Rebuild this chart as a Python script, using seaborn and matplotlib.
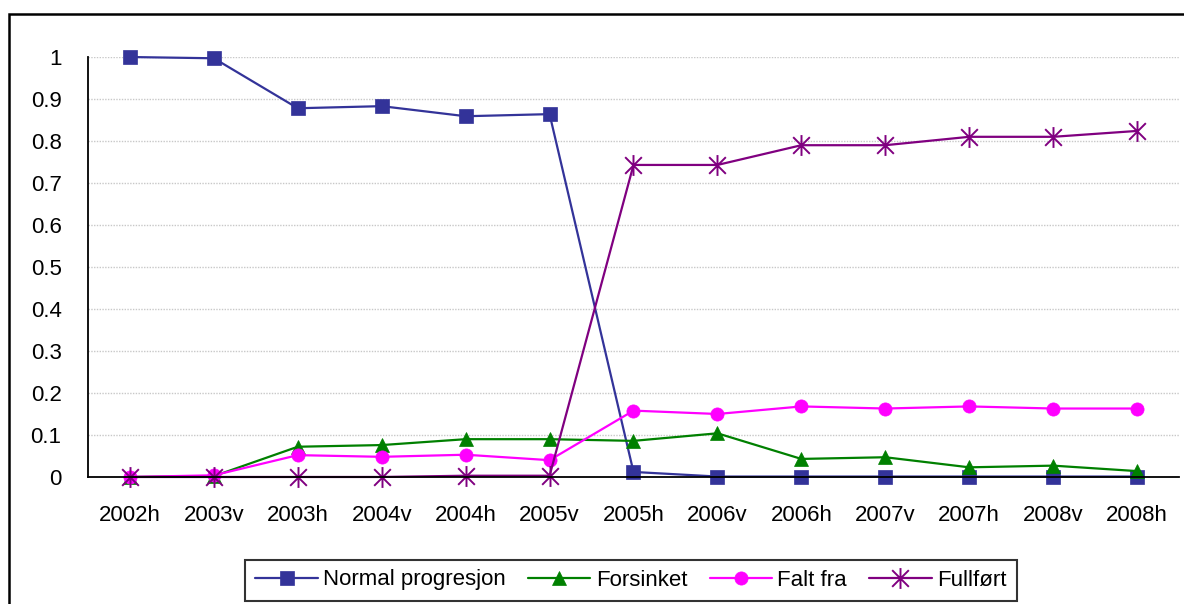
import numpy as np
import pandas as pd
import matplotlib
matplotlib.use("Agg")
import matplotlib.pyplot as plt
from matplotlib.path import Path
from matplotlib.patches import Rectangle
import seaborn as sns

semesters = ["2002h", "2003v", "2003h", "2004v", "2004h", "2005v", "2005h",
             "2006v", "2006h", "2007v", "2007h", "2008v", "2008h"]

normal = [1.0, 0.997, 0.878, 0.883, 0.859, 0.864, 0.012,
          0.001, 0.001, 0.001, 0.001, 0.001, 0.001]
forsinket = [0.0, 0.002, 0.072, 0.076, 0.090, 0.090, 0.086,
             0.104, 0.043, 0.047, 0.023, 0.027, 0.014]
falt_fra = [0.0, 0.004, 0.052, 0.048, 0.053, 0.040, 0.158,
            0.150, 0.168, 0.163, 0.168, 0.163, 0.163]
fullfort = [0.0, 0.0, 0.0, 0.0, 0.003, 0.003, 0.743,
            0.743, 0.790, 0.790, 0.810, 0.810, 0.824]

series_names = ["Normal progresjon", "Forsinket", "Falt fra", "Fullført"]
series_values = [normal, forsinket, falt_fra, fullfort]
colors = ["#333399", "#008000", "#FF00FF", "#800080"]

# asterisk marker like the excel one: vertical bar plus an X
star = Path([(0, -1), (0, 1), (-0.8, -0.8), (0.8, 0.8), (-0.8, 0.8), (0.8, -0.8)],
            [Path.MOVETO, Path.LINETO, Path.MOVETO, Path.LINETO, Path.MOVETO, Path.LINETO])
markers = ["s", "^", "o", star]
sizes = [9.5, 10, 9.5, 15]

sns.set_style("white")
plt.rcParams["font.family"] = ["Liberation Sans", "DejaVu Sans"]
plt.rcParams["text.color"] = "black"
plt.rcParams["xtick.color"] = "black"
plt.rcParams["ytick.color"] = "black"

fig = plt.figure(figsize=(11.84, 6.04), dpi=100)
ax = fig.add_axes([0.0743, 0.2103, 0.9215, 0.6953])

df = pd.DataFrame({"semester": semesters})
for name, vals, col, mk, ms in zip(series_names, series_values, colors, markers, sizes):
    df[name] = vals
    sns.lineplot(data=df, x="semester", y=name, ax=ax, color=col, marker=mk,
                 markersize=ms, markeredgecolor=col, markerfacecolor=col,
                 markeredgewidth=1.4 if mk is star else 0.5,
                 linewidth=1.6, sort=False, label=name, legend=False, clip_on=False)

ax.set_xlim(-0.5, len(semesters) - 0.5)
ax.set_ylim(0, 1)
ax.set_yticks(np.arange(0, 1.01, 0.1))
ax.set_yticklabels(["0", "0.1", "0.2", "0.3", "0.4", "0.5", "0.6", "0.7", "0.8", "0.9", "1"])
ax.set_xticks(range(len(semesters)))
ax.set_xticklabels(semesters)
ax.set_xticks(np.arange(-0.5, len(semesters), 1), minor=True)
ax.tick_params(axis="x", which="major", length=0, pad=20, labelsize=16)
ax.tick_params(axis="x", which="minor", length=7, width=1.2, direction="out", color="black")
ax.tick_params(axis="y", length=7, width=1.2, direction="out", color="black", labelsize=16, pad=12)
ax.set_xlabel("")
ax.set_ylabel("")

ax.grid(axis="y", color="#c8c8c8", linestyle=(0, (1, 1)), linewidth=1)
ax.set_axisbelow(True)
for side in ["top", "right"]:
    ax.spines[side].set_visible(False)
for side in ["left", "bottom"]:
    ax.spines[side].set_color("black")
    ax.spines[side].set_linewidth(1.3)

handles, labels = ax.get_legend_handles_labels()
leg = fig.legend(handles, labels, loc="center", bbox_to_anchor=(631 / 1184, 1 - 580 / 604),
                 ncol=4, frameon=True, fancybox=False, fontsize=16, handlelength=2.8,
                 handletextpad=0.25, columnspacing=1.0, borderpad=0.45, numpoints=1)
leg.get_frame().set_edgecolor("black")
leg.get_frame().set_linewidth(1.5)

# outer chart frame (runs off the right and bottom of the picture)
fig.patches.append(Rectangle((9 / 1184, -0.05), 1.1, 1 - 13.5 / 604 + 0.05,
                             transform=fig.transFigure, fill=False,
                             edgecolor="black", linewidth=1.8))

fig.savefig("out.png", dpi=100)
